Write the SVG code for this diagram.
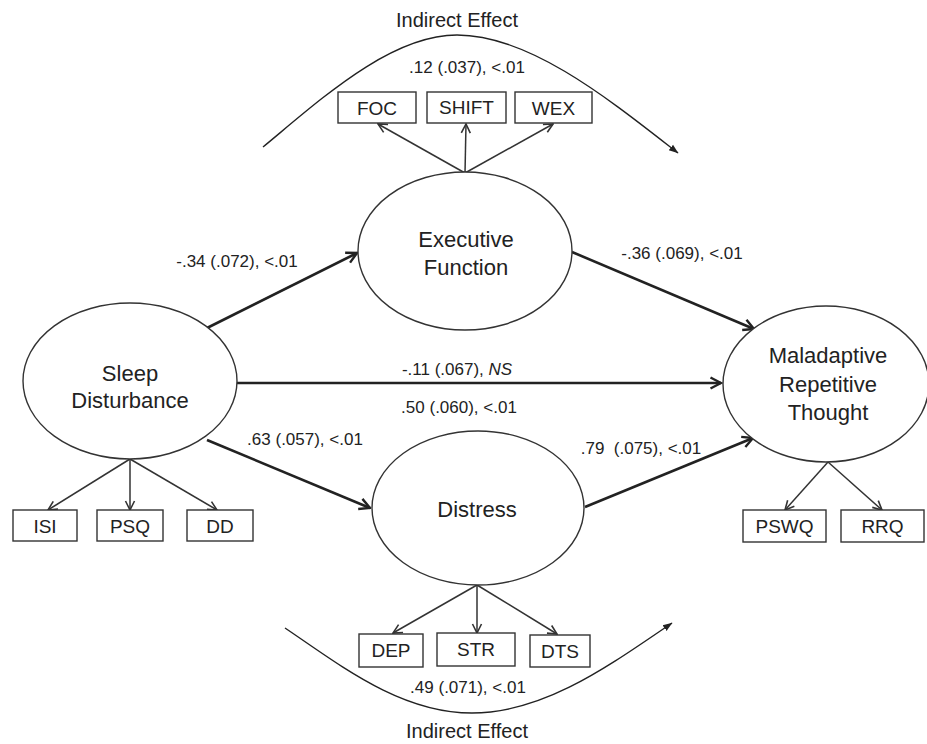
<svg xmlns="http://www.w3.org/2000/svg" width="927" height="744" viewBox="0 0 927 744">
  <style>
    text { font-family: "Liberation Sans", Arial, sans-serif; fill: #222; text-anchor: middle; }
    .latent { fill: #fff; stroke: #333; stroke-width: 1.4; }
    .ind { fill: #fff; stroke: #333; stroke-width: 1.4; }
    .lname { font-size: 22px; }
    .iname { font-size: 19px; }
    .coef { font-size: 17px; }
    .eff { font-size: 20px; }
    .path { fill: none; stroke: #222; stroke-width: 2.6; marker-end: url(#headBold); }
    .load { fill: none; stroke: #333; stroke-width: 1.5; marker-end: url(#headThin); }
    .curve { fill: none; stroke: #222; stroke-width: 1.4; marker-end: url(#headFill); }
  </style>
  <defs>
    <marker id="headBold" viewBox="0 0 14 14" refX="12.5" refY="7" markerWidth="14" markerHeight="14" orient="auto" markerUnits="userSpaceOnUse">
      <path d="M2,1.5 L12.5,7 L2,12.5" fill="none" stroke="#222" stroke-width="2.4" stroke-linejoin="miter"/>
    </marker>
    <marker id="headThin" viewBox="0 0 12 12" refX="11" refY="6" markerWidth="12" markerHeight="12" orient="auto" markerUnits="userSpaceOnUse">
      <path d="M2,1.5 L11,6 L2,10.5" fill="none" stroke="#333" stroke-width="1.6"/>
    </marker>
    <marker id="headFill" viewBox="0 0 10 10" refX="9" refY="5" markerWidth="10" markerHeight="10" orient="auto" markerUnits="userSpaceOnUse">
      <path d="M0,1.5 L9.5,5 L0,8.5 Z" fill="#222"/>
    </marker>
  </defs>

  <rect width="927" height="744" fill="#fff"/>

  <!-- connectors: indirect-effect arcs, structural paths, indicator loadings -->
  <g id="connectors">
    <path class="curve" d="M263,147 C320,100 390,35 457,35 C530,35 610,100 678,153"/>
    <path class="curve" d="M285,628 C340,665 400,713 472,713 C545,713 610,665 672,623"/>

    <line class="path" x1="205" y1="329" x2="357" y2="253"/>
    <line class="path" x1="572" y1="252" x2="754" y2="329"/>
    <line class="path" x1="237" y1="383" x2="721" y2="383"/>
    <line class="path" x1="207" y1="440" x2="370" y2="508"/>
    <line class="path" x1="585" y1="507" x2="753" y2="438"/>

    <line class="load" x1="465" y1="173" x2="378" y2="124"/>
    <line class="load" x1="465" y1="173" x2="466" y2="124"/>
    <line class="load" x1="465" y1="173" x2="553" y2="124"/>

    <line class="load" x1="130" y1="459" x2="48" y2="510"/>
    <line class="load" x1="130" y1="459" x2="130" y2="510"/>
    <line class="load" x1="130" y1="459" x2="217" y2="510"/>

    <line class="load" x1="828" y1="462" x2="785" y2="510"/>
    <line class="load" x1="828" y1="462" x2="882" y2="510"/>

    <line class="load" x1="477" y1="585" x2="393" y2="633"/>
    <line class="load" x1="477" y1="585" x2="477" y2="633"/>
    <line class="load" x1="477" y1="585" x2="557" y2="634"/>
  </g>

  <!-- path coefficients -->
  <g id="labels">
    <text class="eff" x="457" y="27">Indirect Effect</text>
    <text class="coef" x="467" y="73">.12 (.037), &lt;.01</text>
    <text class="coef" x="237" y="267">-.34 (.072), &lt;.01</text>
    <text class="coef" x="682" y="259">-.36 (.069), &lt;.01</text>
    <text class="coef" x="457" y="375">-.11 (.067), <tspan font-style="italic">NS</tspan></text>
    <text class="coef" x="459" y="413">.50 (.060), &lt;.01</text>
    <text class="coef" x="305" y="445">.63 (.057), &lt;.01</text>
    <text class="coef" x="641" y="454">.79&#160; (.075), &lt;.01</text>
    <text class="coef" x="468" y="693">.49 (.071), &lt;.01</text>
    <text class="eff" x="467" y="738">Indirect Effect</text>
  </g>

  <!-- latent variables -->
  <g id="executive-function">
    <ellipse class="latent" cx="465" cy="251" rx="107" ry="79"/>
    <text class="lname" x="466" y="247">Executive</text>
    <text class="lname" x="466" y="275">Function</text>
  </g>
  <g id="sleep-disturbance">
    <ellipse class="latent" cx="130" cy="381" rx="107" ry="78"/>
    <text class="lname" x="130" y="381">Sleep</text>
    <text class="lname" x="130" y="408">Disturbance</text>
  </g>
  <g id="distress">
    <ellipse class="latent" cx="478" cy="508" rx="106" ry="77"/>
    <text class="lname" x="477" y="517">Distress</text>
  </g>
  <g id="maladaptive-repetitive-thought">
    <ellipse class="latent" cx="826" cy="384" rx="103" ry="78"/>
    <text class="lname" x="828" y="363">Maladaptive</text>
    <text class="lname" x="828" y="392">Repetitive</text>
    <text class="lname" x="828" y="420">Thought</text>
  </g>

  <!-- observed indicators -->
  <g id="foc"><rect class="ind" x="338" y="92" width="78" height="31"/><text class="iname" x="377" y="115">FOC</text></g>
  <g id="shift"><rect class="ind" x="427" y="92" width="79" height="31"/><text class="iname" x="466.5" y="114" font-size="17">SHIFT</text></g>
  <g id="wex"><rect class="ind" x="515" y="92" width="77" height="31"/><text class="iname" x="553.5" y="115">WEX</text></g>

  <g id="isi"><rect class="ind" x="13" y="510" width="64" height="31"/><text class="iname" x="45" y="533">ISI</text></g>
  <g id="psq"><rect class="ind" x="97" y="510" width="66" height="31"/><text class="iname" x="130" y="533">PSQ</text></g>
  <g id="dd"><rect class="ind" x="187" y="510" width="66" height="31"/><text class="iname" x="220" y="533">DD</text></g>

  <g id="pswq"><rect class="ind" x="743" y="510" width="83" height="32"/><text class="iname" x="784.5" y="533">PSWQ</text></g>
  <g id="rrq"><rect class="ind" x="841" y="510" width="83" height="32"/><text class="iname" x="882.5" y="533">RRQ</text></g>

  <g id="dep"><rect class="ind" x="359" y="634" width="64" height="33"/><text class="iname" x="391" y="657">DEP</text></g>
  <g id="str"><rect class="ind" x="437" y="633" width="78" height="33"/><text class="iname" x="476" y="656">STR</text></g>
  <g id="dts"><rect class="ind" x="530" y="635" width="60" height="32"/><text class="iname" x="560" y="658">DTS</text></g>
</svg>
